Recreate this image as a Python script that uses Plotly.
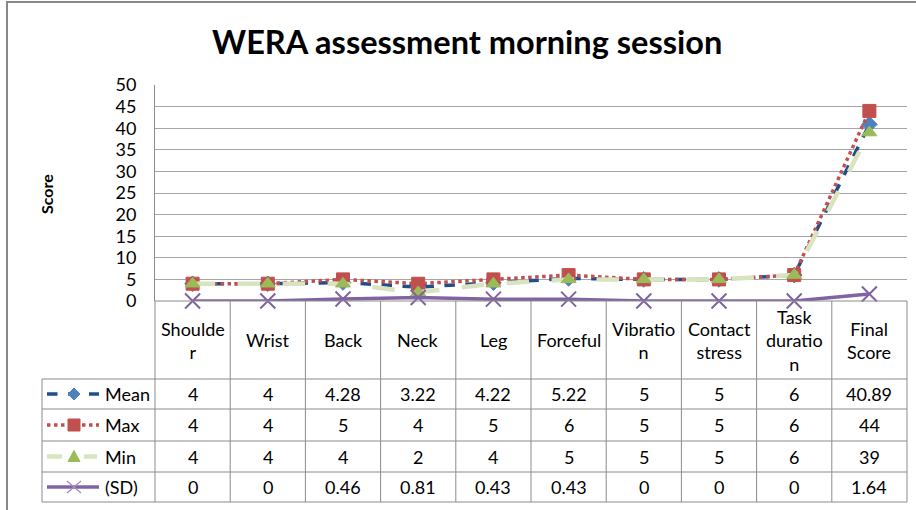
import plotly.graph_objects as go

# ---------------- data ----------------
categories = ["Shoulder", "Wrist", "Back", "Neck", "Leg", "Forceful",
              "Vibration", "Contact stress", "Task duration", "Final Score"]
header_labels = ["Shoulde<br>r", "Wrist", "Back", "Neck", "Leg", "Forceful",
                 "Vibratio<br>n", "Contact<br>stress", "Task<br>duratio<br>n", "Final<br>Score"]
mean_vals = [4, 4, 4.28, 3.22, 4.22, 5.22, 5, 5, 6, 40.89]
max_vals = [4, 4, 5, 4, 5, 6, 5, 5, 6, 44]
min_vals = [4, 4, 4, 2, 4, 5, 5, 5, 6, 39]
sd_vals = [0, 0, 0.46, 0.81, 0.43, 0.43, 0, 0, 0, 1.64]
series_names = ["Mean", "Max", "Min", "(SD)"]
y_ticks = [0, 5, 10, 15, 20, 25, 30, 35, 40, 45, 50]

# ---------------- layout geometry (pixels) ----------------
W, H = 916, 510
L, R, T, B = 155, 907, 85, 301
PW, PH = R - L, B - T
FONT = "Lato"
GRID = "#A6A6A6"
BORDER = "#8C8C8C"
TXT = 18


def px(x):
    return (x - L) / PW


def py(y):
    return (B - y) / PH


styles = [
    dict(line=dict(color="#1F4E8C", width=3.5, dash="dash"),
         marker=dict(symbol="diamond", size=12, color="#4F81BD",
                     line=dict(color="#4F81BD", width=1))),
    dict(line=dict(color="#C0504D", width=3.5, dash="dot"),
         marker=dict(symbol="square", size=13, color="#C0504D",
                     line=dict(color="#C0504D", width=1))),
    dict(line=dict(color="#D7E4BD", width=4.5, dash="longdash"),
         marker=dict(symbol="triangle-up", size=13, color="#9BBB59",
                     line=dict(color="#9BBB59", width=1))),
    dict(line=dict(color="#8064A2", width=3.5, dash="solid"),
         marker=dict(symbol="x-thin-open", size=15, color="#8064A2",
                     line=dict(color="#8064A2", width=2))),
]

all_series = [mean_vals, max_vals, min_vals, sd_vals]

fig = go.Figure()
for name, vals, st in zip(series_names, all_series, styles):
    fig.add_trace(go.Scatter(x=categories, y=vals, name=name, mode="lines+markers",
                             line=st["line"], marker=st["marker"], cliponaxis=False,
                             showlegend=False))

shapes = []
annotations = []

# chart outer border
shapes.append(dict(type="rect", xref="paper", yref="paper",
                   x0=px(7), x1=px(925), y0=py(520), y1=py(2),
                   line=dict(color="#888888", width=2), layer="below"))

# table geometry
col_w = PW / len(categories)
row_edges = [301, 379, 409, 441, 472, 502]
LEG_X = 42

# horizontal table lines
for i, y in enumerate(row_edges):
    x0 = L if i == 0 else LEG_X
    shapes.append(dict(type="line", xref="paper", yref="paper",
                       x0=px(x0), x1=px(R), y0=py(y), y1=py(y),
                       line=dict(color=BORDER, width=1)))
# vertical table lines
for k in range(len(categories) + 1):
    x = L + k * col_w
    shapes.append(dict(type="line", xref="paper", yref="paper",
                       x0=px(x), x1=px(x), y0=py(301), y1=py(502),
                       line=dict(color=BORDER, width=1)))
shapes.append(dict(type="line", xref="paper", yref="paper",
                   x0=px(LEG_X), x1=px(LEG_X), y0=py(379), y1=py(502),
                   line=dict(color=BORDER, width=1)))

# header labels
for k, lab in enumerate(header_labels):
    annotations.append(dict(xref="paper", yref="paper",
                            x=px(L + (k + 0.5) * col_w), y=py(340),
                            text=lab, showarrow=False, align="center",
                            xanchor="center", yanchor="middle",
                            font=dict(family=FONT, size=TXT, color="#000000")))

# value cells + legend keys
for r, (name, vals, st) in enumerate(zip(series_names, all_series, styles)):
    yc = (row_edges[r + 1] + row_edges[r + 2]) / 2
    for k, v in enumerate(vals):
        annotations.append(dict(xref="paper", yref="paper",
                                x=px(L + (k + 0.5) * col_w), y=py(yc),
                                text=f"{v:g}", showarrow=False,
                                xanchor="center", yanchor="middle",
                                font=dict(family=FONT, size=TXT, color="#000000")))
    annotations.append(dict(xref="paper", yref="paper",
                            x=px(103), y=py(yc), text=name, showarrow=False,
                            xanchor="left", yanchor="middle",
                            font=dict(family=FONT, size=TXT, color="#000000")))
    # key line
    lc = st["line"]
    if r == 2:
        segs = [(47, 62), (84, 97)]
    else:
        segs = [(47, 99)]
    for a, b in segs:
        shapes.append(dict(type="line", xref="paper", yref="paper",
                           x0=px(a), x1=px(b), y0=py(yc), y1=py(yc),
                           line=dict(color=lc["color"], width=lc["width"],
                                     dash="solid" if r == 2 else lc["dash"])))
    # key marker
    mc = st["marker"]["color"]
    cx = 74
    if r == 0:
        pts = [(cx - 6, yc), (cx, yc - 6), (cx + 6, yc), (cx, yc + 6)]
    elif r == 1:
        pts = [(cx - 6, yc - 6), (cx + 6, yc - 6), (cx + 6, yc + 6), (cx - 6, yc + 6)]
    elif r == 2:
        pts = [(cx - 6, yc + 5), (cx, yc - 6), (cx + 6, yc + 5)]
    if r < 3:
        path = "M " + " L ".join(f"{px(a)},{py(b)}" for a, b in pts) + " Z"
        shapes.append(dict(type="path", xref="paper", yref="paper", path=path,
                           fillcolor=mc, line=dict(color=mc, width=1)))
    else:
        for (a1, b1, a2, b2) in [(cx - 7, yc - 6, cx + 7, yc + 6), (cx - 7, yc + 6, cx + 7, yc - 6)]:
            shapes.append(dict(type="line", xref="paper", yref="paper",
                               x0=px(a1), x1=px(a2), y0=py(b1), y1=py(b2),
                               line=dict(color="#9F8BBF", width=1.2)))

# y axis title
annotations.append(dict(xref="paper", yref="paper", x=px(46), y=py(194),
                        text="<b>Score</b>", textangle=-90, showarrow=False,
                        xanchor="center", yanchor="middle",
                        font=dict(family=FONT, size=16, color="#000000")))
# title
annotations.append(dict(xref="paper", yref="paper", x=px(467), y=py(41),
                        text="<b>WERA assessment morning session</b>", showarrow=False,
                        xanchor="center", yanchor="middle",
                        font=dict(family=FONT, size=32.5, color="#000000")))

fig.update_layout(
    width=W, height=H,
    margin=dict(l=L, r=W - R, t=T, b=H - B, pad=0),
    paper_bgcolor="white", plot_bgcolor="white",
    shapes=shapes, annotations=annotations,
    xaxis=dict(type="category", range=[-0.5, len(categories) - 0.5],
               showticklabels=False, showgrid=False, zeroline=False,
               showline=False, ticks=""),
    yaxis=dict(range=[0, 50], tickvals=y_ticks, showgrid=True, gridcolor=GRID,
               gridwidth=1, zeroline=False, showline=True, linecolor=BORDER,
               linewidth=1, ticks="", ticklabelstandoff=14,
               tickfont=dict(family=FONT, size=TXT, color="#000000")),
    font=dict(family=FONT),
)

fig.write_html("out.html", config={"displayModeBar": False},
               post_script="document.body.style.margin='0px';document.body.style.overflow='hidden';")
